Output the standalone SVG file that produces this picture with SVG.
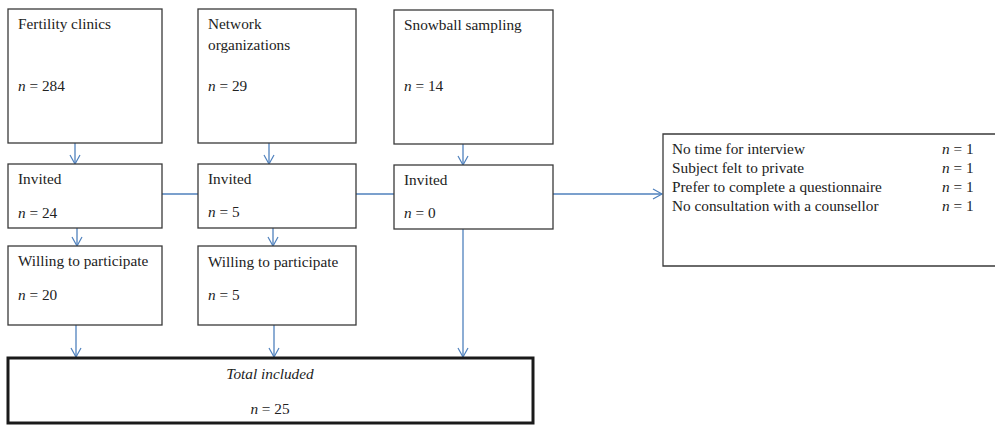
<svg xmlns="http://www.w3.org/2000/svg" width="995" height="425" viewBox="0 0 995 425">
<style>
.box{fill:#fff;stroke:#3a3a3a;stroke-width:1.3}
.thick{fill:#fff;stroke:#1a1a1a;stroke-width:3}
text{font-family:"Liberation Serif","Times New Roman",serif;font-size:15.3px;fill:#222}
.i{font-style:italic}
.c{stroke:#4f81bd;stroke-width:1.3;fill:none}
</style>
<defs>
<marker id="ah" markerWidth="12" markerHeight="12" refX="10" refY="6" orient="auto" markerUnits="userSpaceOnUse">
<path d="M1,1 L10,6 L1,11" fill="none" stroke="#4f81bd" stroke-width="1.2"/>
</marker>
</defs>
<g id="connectors">
<line class="c" x1="75" y1="143" x2="75" y2="164" marker-end="url(#ah)"/>
<line class="c" x1="269" y1="143" x2="269" y2="164" marker-end="url(#ah)"/>
<line class="c" x1="463" y1="144" x2="463" y2="165" marker-end="url(#ah)"/>
<line class="c" x1="162" y1="194" x2="198" y2="194"/>
<line class="c" x1="356" y1="194" x2="394" y2="194"/>
<line class="c" x1="553" y1="194" x2="662" y2="194" marker-end="url(#ah)"/>
<line class="c" x1="77" y1="228" x2="77" y2="246" marker-end="url(#ah)"/>
<line class="c" x1="273" y1="228" x2="273" y2="246" marker-end="url(#ah)"/>
<line class="c" x1="76" y1="325" x2="76" y2="357" marker-end="url(#ah)"/>
<line class="c" x1="274" y1="325" x2="274" y2="357" marker-end="url(#ah)"/>
<line class="c" x1="463" y1="229" x2="463" y2="357" marker-end="url(#ah)"/>
</g>
<g id="fertility">
<rect class="box" x="8" y="9" width="154" height="134"/>
<text x="18" y="29">Fertility clinics</text>
<text x="18" y="91"><tspan class="i">n</tspan> = 284</text>
</g>
<g id="network">
<rect class="box" x="198" y="9" width="158" height="134"/>
<text x="208" y="29">Network</text>
<text x="208" y="50">organizations</text>
<text x="208" y="91"><tspan class="i">n</tspan> = 29</text>
</g>
<g id="snowball">
<rect class="box" x="394" y="10" width="159" height="134"/>
<text x="404" y="30">Snowball sampling</text>
<text x="404" y="91"><tspan class="i">n</tspan> = 14</text>
</g>
<g id="invited1">
<rect class="box" x="8" y="164" width="154" height="64"/>
<text x="18" y="184">Invited</text>
<text x="18" y="218"><tspan class="i">n</tspan> = 24</text>
</g>
<g id="invited2">
<rect class="box" x="198" y="164" width="158" height="64"/>
<text x="208" y="184">Invited</text>
<text x="208" y="217"><tspan class="i">n</tspan> = 5</text>
</g>
<g id="invited3">
<rect class="box" x="394" y="165" width="159" height="64"/>
<text x="404" y="185">Invited</text>
<text x="404" y="218"><tspan class="i">n</tspan> = 0</text>
</g>
<g id="willing1">
<rect class="box" x="8" y="246" width="154" height="79"/>
<text x="18" y="266">Willing to participate</text>
<text x="18" y="300"><tspan class="i">n</tspan> = 20</text>
</g>
<g id="willing2">
<rect class="box" x="198" y="246" width="158" height="79"/>
<text x="208" y="267">Willing to participate</text>
<text x="208" y="300"><tspan class="i">n</tspan> = 5</text>
</g>
<g id="total">
<rect class="thick" x="8" y="358" width="525" height="65"/>
<text class="i" x="270" y="379" text-anchor="middle">Total included</text>
<text x="270" y="414" text-anchor="middle"><tspan class="i">n</tspan> = 25</text>
</g>
<g id="reasons">
<path class="box" d="M996,134 H663 V266 H996"/>
<text x="672" y="154">No time for interview</text>
<text x="672" y="173">Subject felt to private</text>
<text x="672" y="192">Prefer to complete a questionnaire</text>
<text x="672" y="211">No consultation with a counsellor</text>
<text x="942" y="154"><tspan class="i">n</tspan> = 1</text>
<text x="942" y="173"><tspan class="i">n</tspan> = 1</text>
<text x="942" y="192"><tspan class="i">n</tspan> = 1</text>
<text x="942" y="211"><tspan class="i">n</tspan> = 1</text>
</g>
</svg>
